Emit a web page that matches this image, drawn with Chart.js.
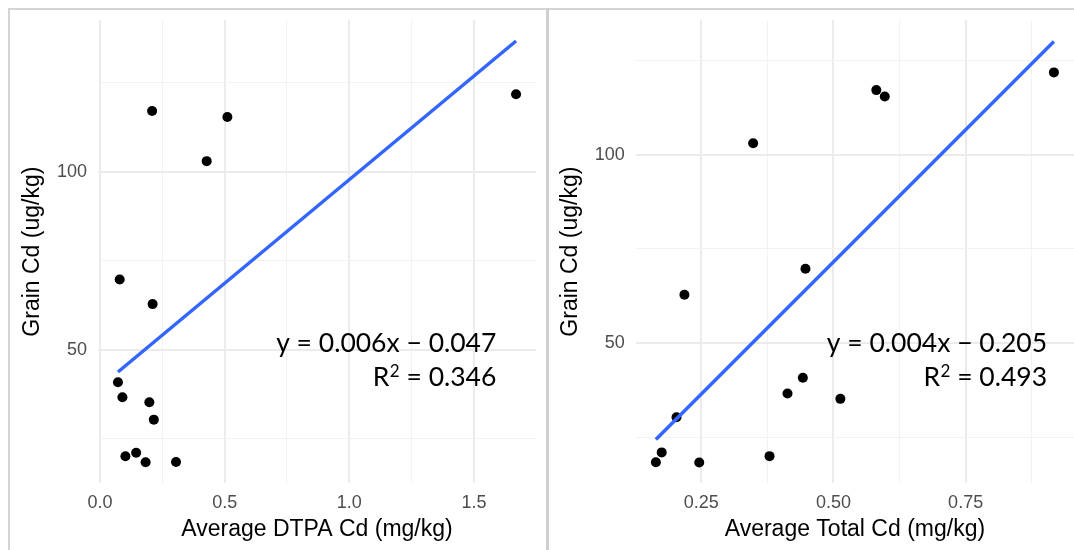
<!DOCTYPE html>
<html>
<head>
<meta charset="utf-8">
<script src="https://cdn.jsdelivr.net/npm/chart.js@4/dist/chart.umd.min.js"></script>
<style>
  body { margin: 0; background: #fff; width: 1074px; height: 550px; overflow: hidden; position: relative; }
  .frame { position: absolute; background: #d4d4d4; }
  canvas { position: absolute; top: 10px; }
</style>
</head>
<body>
<div class="frame" style="left:8px; top:8px; width:1066px; height:2px;"></div>
<div class="frame" style="left:8px; top:8px; width:2px; height:542px;"></div>
<div class="frame" style="left:546px; top:8px; width:3px; height:542px; background:#cfcfcf;"></div>
<canvas id="dtpaChart" width="536" height="540" style="left:10px;"></canvas>
<canvas id="totalChart" width="525" height="540" style="left:549px;"></canvas>
<script>
// grain Cd (ug/kg), same samples in both panels
const grainCd = [121.8, 117.1, 115.4, 103.0, 69.7, 62.8, 40.8, 36.6, 35.2, 30.3, 20.0, 21.0, 18.3, 18.4];
const dtpaCd  = [1.669, 0.209, 0.511, 0.428, 0.079, 0.211, 0.072, 0.090, 0.198, 0.216, 0.102, 0.145, 0.183, 0.305];
const totalCd = [0.917, 0.581, 0.597, 0.348, 0.447, 0.218, 0.442, 0.413, 0.513, 0.203, 0.379, 0.175, 0.246, 0.164];

// fitted lines (ends)
const dtpaFitX = [0.072, 1.669];
const dtpaFitY = [43.7, 136.8];
const totalFitX = [0.164, 0.917];
const totalFitY = [24.4, 130.0];

// ticks
const dtpaTicks = [0, 0.25, 0.5, 0.75, 1.0, 1.25, 1.5];
const dtpaTickLabels = ["0.0", "", "0.5", "", "1.0", "", "1.5"];
const totalTicks = [0.25, 0.375, 0.5, 0.625, 0.75, 0.875];
const totalTickLabels = ["0.25", "", "0.50", "", "0.75", ""];
const grainTicks = [25, 50, 75, 100, 125];
const grainTickLabels = ["", "50", "", "100", ""];

// axis ranges
const dtpaRange = [-0.008, 1.749];
const totalRange = [0.126, 0.955];
const grainRangeLeft = [12.4, 142.7];
const grainRangeRight = [12.8, 135.7];

// equation labels and where they sit (data units of each panel)
const dtpaEq = "y = 0.006x \u2212 0.047";
const dtpaR2 = "0.346";
const totalEq = "y = 0.004x \u2212 0.205";
const totalR2 = "0.493";
const dtpaEqAt = [1.59, 49.2];
const totalEqAt = [0.904, 47.5];

const tickFont = { family: "'Liberation Sans', Arial, sans-serif", size: 18 };
const titleFont = { family: "'Liberation Sans', Arial, sans-serif", size: 23 };

const eqPlugin = {
  id: "eqLabel",
  afterDatasetsDraw(chart, args, opts) {
    const { ctx, scales } = chart;
    const x = scales.x.getPixelForValue(opts.at[0]);
    const y = scales.y.getPixelForValue(opts.at[1]);
    const big = "26.5px Lato, 'Open Sans', sans-serif";
    const small = "17px Lato, 'Open Sans', sans-serif";
    ctx.save();
    ctx.fillStyle = "#000";
    ctx.textAlign = "right";
    ctx.textBaseline = "alphabetic";
    ctx.font = big;
    ctx.fillText(opts.eq, x, y);
    // second line: R, superscript 2, then the value
    const y2 = y + 34;
    const rest = " = " + opts.r2;
    ctx.fillText(rest, x, y2);
    let cx = x - ctx.measureText(rest).width;
    ctx.font = small;
    ctx.fillText("2", cx, y2 - 9);
    cx -= ctx.measureText("2").width + 0.5;
    ctx.font = big;
    ctx.fillText("R", cx, y2);
    ctx.restore();
  },
};

function gridStyle(labels) {
  return {
    drawTicks: false,
    color: (c) => (labels[c.index] ? "#ebebeb" : "#f2f2f2"),
    lineWidth: (c) => (labels[c.index] ? 2 : 1.1),
  };
}

function makePanel(id, xs, fitX, fitY, xRange, yRange, xTicks, xLabels, xTitle, yAxisWidth, rightPad, yTitlePad, eq, r2, eqAt) {
  return new Chart(document.getElementById(id), {
    type: "scatter",
    data: {
      datasets: [
        {
          type: "line",
          data: fitX.map((x, i) => ({ x: x, y: fitY[i] })),
          borderColor: "#3366ff",
          borderWidth: 3.5,
          pointRadius: 0,
          fill: false,
          order: 0,
        },
        {
          data: xs.map((x, i) => ({ x: x, y: grainCd[i] })),
          backgroundColor: "#000",
          borderWidth: 0,
          pointRadius: 5,
          order: 1,
        },
      ],
    },
    options: {
      responsive: false,
      animation: false,
      layout: { autoPadding: false, padding: { top: 10, right: rightPad, bottom: 0, left: 0 } },
      plugins: {
        legend: { display: false },
        tooltip: { enabled: false },
        eqLabel: { eq: eq, r2: r2, at: eqAt },
      },
      scales: {
        x: {
          type: "linear",
          min: xRange[0],
          max: xRange[1],
          afterBuildTicks: (s) => { s.ticks = xTicks.map((v) => ({ value: v })); },
          afterFit: (s) => {
            s.height = 66.7;
            s.paddingLeft = 0; s.paddingRight = 0;
          },
          ticks: {
            autoSkip: false,
            maxRotation: 0,
            padding: 8.5,
            color: "#4d4d4d",
            font: tickFont,
            callback: (v, i) => xLabels[i],
          },
          grid: gridStyle(xLabels),
          border: { display: false },
          title: { display: true, text: xTitle, color: "#000", font: titleFont, padding: { top: 0, bottom: 6.6 } },
        },
        y: {
          type: "linear",
          min: yRange[0],
          max: yRange[1],
          afterBuildTicks: (s) => { s.ticks = grainTicks.map((v) => ({ value: v })); },
          afterFit: (s) => {
            s.width = yAxisWidth;
            s.paddingTop = 0; s.paddingBottom = 0;
          },
          ticks: {
            autoSkip: false,
            padding: 11,
            color: "#4d4d4d",
            font: tickFont,
            callback: (v, i) => grainTickLabels[i],
          },
          grid: gridStyle(grainTickLabels),
          border: { display: false },
          title: { display: true, text: "Grain Cd (ug/kg)", color: "#000", font: titleFont, padding: { top: yTitlePad, bottom: 0 } },
        },
      },
    },
    plugins: [eqPlugin],
  });
}

makePanel("dtpaChart", dtpaCd, dtpaFitX, dtpaFitY, dtpaRange, grainRangeLeft, dtpaTicks, dtpaTickLabels,
  "Average DTPA Cd (mg/kg)", 88, 10, 9, dtpaEq, dtpaR2, dtpaEqAt);
makePanel("totalChart", totalCd, totalFitX, totalFitY, totalRange, grainRangeRight, totalTicks, totalTickLabels,
  "Average Total Cd (mg/kg)", 86.8, 0, 8, totalEq, totalR2, totalEqAt);
</script>
</body>
</html>
